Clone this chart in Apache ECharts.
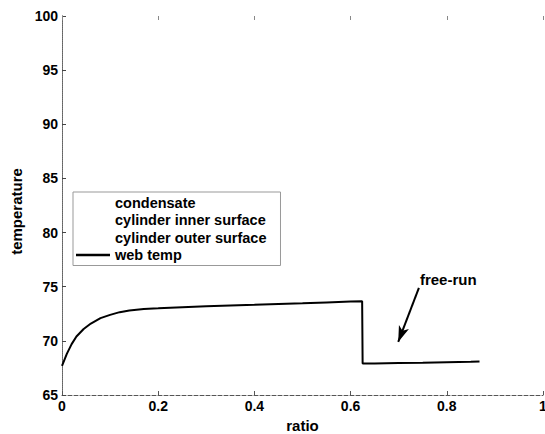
<!DOCTYPE html>
<html>
<head>
<meta charset="utf-8">
<script src="https://cdn.jsdelivr.net/npm/echarts@6/dist/echarts.min.js"></script>
<style>
  html, body { margin: 0; padding: 0; background: #fff; }
  #main { width: 545px; height: 434px; }
</style>
</head>
<body>
<div id="main"></div>
<script>
var ratio = [0, 0.01, 0.02, 0.03, 0.045, 0.06, 0.08, 0.1, 0.12, 0.14, 0.17, 0.2, 0.25, 0.3, 0.35, 0.4, 0.45, 0.5, 0.55, 0.6, 0.624, 0.625, 0.65, 0.7, 0.75, 0.8, 0.85, 0.868];
var webTemp = [67.7, 68.8, 69.7, 70.4, 71.1, 71.6, 72.1, 72.4, 72.65, 72.8, 72.95, 73.0, 73.1, 73.2, 73.27, 73.33, 73.4, 73.47, 73.55, 73.63, 73.65, 67.9, 67.92, 67.95, 67.98, 68.02, 68.06, 68.1];
var legendNames = ['condensate', 'cylinder inner surface', 'cylinder outer surface', 'web temp'];
var arrowFrom = [0.742, 74.9];
var arrowTo = [0.699, 69.9];
var labelAt = [0.803, 75.65];

var myChart = echarts.init(document.getElementById('main'), null, {renderer: 'svg'});

var font = 'Liberation Sans, Arial, sans-serif';
var webData = ratio.map(function (r, i) { return [r, webTemp[i]]; });
var hidden = { itemStyle: { opacity: 0 }, lineStyle: { opacity: 0 } };

var option = {
    animation: false,
    textStyle: { fontFamily: font, color: '#000' },
    grid: { left: 62, right: 2, top: 16, bottom: 39, outerBoundsMode: 'none', containLabel: false },
    legend: {
        orient: 'vertical',
        left: 73,
        top: 192,
        padding: [3, 14, 3, 2],
        itemWidth: 34,
        itemHeight: 12,
        itemGap: 2.5,
        borderColor: '#999',
        borderWidth: 1,
        textStyle: { fontSize: 14.5, lineHeight: 14, fontWeight: 'bold', color: '#000', fontFamily: font },
        data: [
            Object.assign({ name: legendNames[0] }, hidden),
            Object.assign({ name: legendNames[1] }, hidden),
            Object.assign({ name: legendNames[2] }, hidden),
            { name: legendNames[3], icon: 'path://M0,0 L34,0 L34,2.4 L0,2.4 Z' }
        ]
    },
    xAxis: [{
        type: 'value',
        min: 0, max: 1, interval: 0.2,
        name: 'ratio',
        nameLocation: 'middle',
        nameGap: 19,
        nameTextStyle: { fontSize: 15, fontWeight: 'bold', color: '#000' },
        axisLine: { lineStyle: { color: '#555', width: 1, type: 'dashed' } },
        axisTick: { inside: true, length: 4, lineStyle: { color: '#555' } },
        axisLabel: { fontSize: 14, fontWeight: 'bold', color: '#000', margin: 4 },
        splitLine: { show: false }
    }, {
        type: 'value', position: 'top',
        min: 0, max: 1, interval: 0.2,
        axisLine: { show: true, lineStyle: { color: '#fff', width: 1 } },
        axisTick: { inside: true, length: 4, lineStyle: { color: '#888' } },
        axisLabel: { show: false },
        splitLine: { show: false }
    }],
    yAxis: [{
        type: 'value',
        min: 65, max: 100, interval: 5,
        name: 'temperature',
        nameLocation: 'middle',
        nameGap: 36,
        nameTextStyle: { fontSize: 15, fontWeight: 'bold', color: '#000', padding: [0, 0, 0, -12] },
        axisLine: { show: true, lineStyle: { color: '#444', width: 1 } },
        axisTick: { show: true, inside: true, length: 4, lineStyle: { color: '#444' } },
        axisLabel: { fontSize: 14, fontWeight: 'bold', color: '#000', margin: 4 },
        splitLine: { show: false }
    }, {
        type: 'value', position: 'right',
        min: 65, max: 100, interval: 5,
        axisLine: { show: true, lineStyle: { color: '#777', width: 1, type: 'dotted' } },
        axisTick: { show: false },
        axisLabel: { show: false },
        splitLine: { show: false }
    }],
    series: [
        { name: legendNames[0], type: 'line', data: [], symbol: 'none', lineStyle: { color: 'transparent' }, itemStyle: { color: 'transparent' } },
        { name: legendNames[1], type: 'line', data: [], symbol: 'none', lineStyle: { color: 'transparent' }, itemStyle: { color: 'transparent' } },
        { name: legendNames[2], type: 'line', data: [], symbol: 'none', lineStyle: { color: 'transparent' }, itemStyle: { color: 'transparent' } },
        {
            name: legendNames[3],
            type: 'line',
            data: webData,
            symbol: 'none',
            color: '#000',
            lineStyle: { color: '#000', width: 2 },
            markLine: {
                silent: true,
                symbolSize: [8, 16],
                lineStyle: { color: '#000', width: 2, type: 'solid' },
                label: { show: false },
                data: [[
                    { coord: arrowFrom, symbol: 'none' },
                    { coord: arrowTo, symbol: 'arrow' }
                ]]
            },
            markPoint: {
                silent: true,
                symbol: 'circle',
                symbolSize: 0,
                label: {
                    show: true,
                    formatter: 'free-run',
                    fontSize: 15,
                    fontWeight: 'bold',
                    color: '#000',
                    position: 'inside'
                },
                data: [{ coord: labelAt }]
            }
        }
    ]
};

myChart.setOption(option);
</script>
</body>
</html>
